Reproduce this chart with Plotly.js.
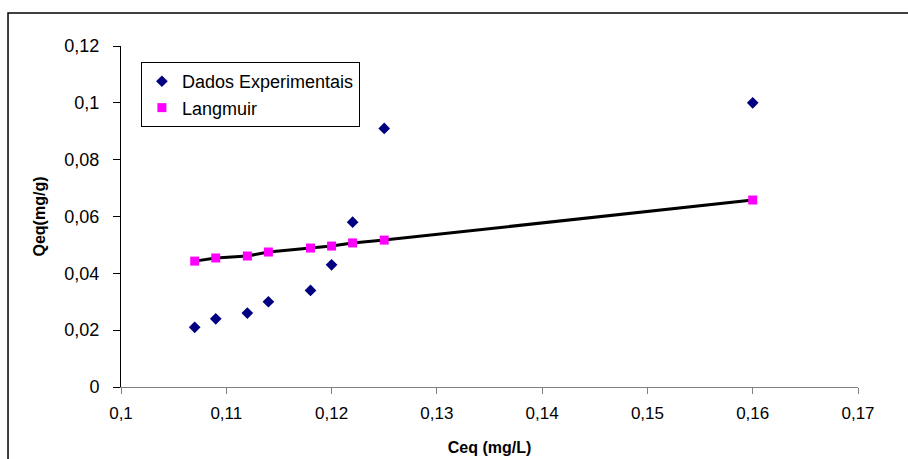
<!DOCTYPE html>
<html>
<head>
<meta charset="utf-8">
<script src="https://cdn.plot.ly/plotly-3.0.1.min.js"></script>
<style>html,body{margin:0;padding:0;background:#fff;}#chart{width:908px;height:459px;}</style>
</head>
<body>
<div id="chart"></div>
<script>
var ceq = [0.107, 0.109, 0.112, 0.114, 0.118, 0.120, 0.122, 0.125, 0.160];
var qeqExp = [0.021, 0.024, 0.026, 0.030, 0.034, 0.043, 0.058, 0.091, 0.100];
var qeqLangmuir = [0.0443, 0.0454, 0.0461, 0.0475, 0.0489, 0.0496, 0.0507, 0.0517, 0.0658];
var seriesNames = ["Dados Experimentais", "Langmuir"];

var traces = [
  {x: ceq, y: qeqLangmuir, mode: "lines", line: {color: "#000000", width: 3}, showlegend: false, hoverinfo: "skip"},
  {x: ceq, y: qeqExp, mode: "markers", name: seriesNames[0],
   marker: {symbol: "diamond", color: "#000080", size: 9}},
  {x: ceq, y: qeqLangmuir, mode: "markers", name: seriesNames[1],
   marker: {symbol: "square", color: "#FF00FF", size: 9}}
];

var layout = {
  width: 908, height: 459,
  margin: {l: 121, r: 50, t: 46, b: 72},
  paper_bgcolor: "#ffffff", plot_bgcolor: "#ffffff",
  separators: ",.",
  font: {family: "Arial, Liberation Sans, sans-serif", size: 16, color: "#000"},
  xaxis: {
    range: [0.1, 0.17], dtick: 0.01, tick0: 0.1,
    showgrid: false, zeroline: false, showline: true, linecolor: "#808080", linewidth: 1,
    ticks: "outside", ticklen: 6, tickcolor: "#808080",
    tickfont: {size: 17}, ticklabelstandoff: 5,
    title: {text: "<b>Ceq (mg/L)</b>", font: {size: 16}, standoff: 19}
  },
  yaxis: {
    range: [0, 0.12], dtick: 0.02, tick0: 0,
    showgrid: false, zeroline: false, showline: true, linecolor: "#000000", linewidth: 1,
    ticks: "outside", ticklen: 7, tickcolor: "#000000",
    tickfont: {size: 18}, ticklabelstandoff: 10,
    title: {text: "<b>Qeq(mg/g)</b>", font: {size: 16}, standoff: 14}
  },
  legend: {
    x: 0.027, y: 0.953, xanchor: "left", yanchor: "top",
    bordercolor: "#000000", borderwidth: 1, bgcolor: "#ffffff",
    font: {size: 18}, tracegroupgap: 0, itemwidth: 30
  },
  shapes: [
    {type: "rect", xref: "paper", yref: "paper", x0: -0.1533, x1: 1.12, y0: -0.3, y1: 1.0968,
     line: {color: "#000000", width: 1.5}, fillcolor: "rgba(0,0,0,0)", layer: "below"}
  ]
};

Plotly.newPlot("chart", traces, layout, {displayModeBar: false, staticPlot: true});
</script>
</body>
</html>
